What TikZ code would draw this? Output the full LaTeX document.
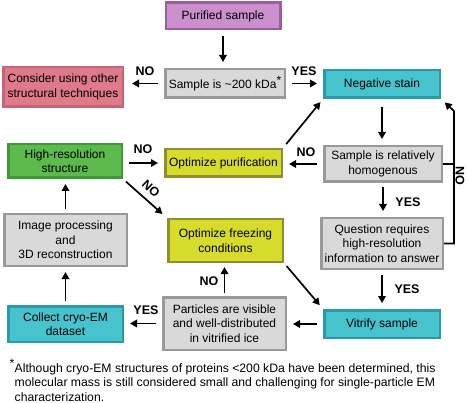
\documentclass[tikz,border=0pt]{standalone}
\usepackage{fontspec}
\setmainfont{Liberation Sans}
\usetikzlibrary{arrows.meta,calc}
\definecolor{purF}{HTML}{CB8FCB}\definecolor{purD}{HTML}{9A5EA0}
\definecolor{grF}{HTML}{D9D9D9}\definecolor{grD}{HTML}{999999}
\definecolor{pkF}{HTML}{DE7A8A}\definecolor{pkD}{HTML}{C46676}
\definecolor{teF}{HTML}{46C3CD}\definecolor{teD}{HTML}{2A9AA5}
\definecolor{gnF}{HTML}{5CBB4C}\definecolor{gnD}{HTML}{3D9A3A}
\definecolor{ylF}{HTML}{D6DB2C}\definecolor{ylD}{HTML}{8E9030}
\begin{document}
\begin{tikzpicture}[x=1pt,y=-1pt,
  box/.style={draw, line width=2.5pt, align=center, inner sep=0pt,
    font=\fontsize{12}{14.5}\selectfont},
  purbox/.style={box, fill=purF, draw=purD},
  grbox/.style={box, fill=grF, draw=grD},
  pkbox/.style={box, fill=pkF, draw=pkD},
  tebox/.style={box, fill=teF, draw=teD},
  gnbox/.style={box, fill=gnF, draw=gnD},
  ylbox/.style={box, fill=ylF, draw=ylD},
  arr/.style={-{Triangle[length=7pt,width=7.5pt]}, line width=1.7pt, shorten <=6pt, shorten >=6pt},
  plain/.style={line width=1.7pt},
  lbl/.style={font=\bfseries\fontsize{12.5}{14}\selectfont, inner sep=0pt},
  fn/.style={font=\fontsize{12.2}{14.5}\selectfont, inner sep=0pt}
]
\useasboundingbox (0,0) rectangle (468,403);

\node[purbox, minimum width=114.5pt, minimum height=26.5pt] (purified) at (223,16) {Purified sample};
\node[grbox, minimum width=119.5pt, minimum height=28.5pt] (s200) at (225,83.5) {Sample is \textasciitilde200 kDa\raisebox{0.35em}{*}};
\node[pkbox, minimum width=119.5pt, minimum height=39.5pt] (consider) at (63,87) {Consider using other\\structural techniques};
\node[tebox, minimum width=115.5pt, minimum height=27.5pt] (neg) at (382,84) {Negative stain};
\node[gnbox, minimum width=113.5pt, minimum height=33.5pt] (highres) at (65,161) {High-resolution\\structure};
\node[ylbox, minimum width=116.5pt, minimum height=27.5pt] (optpur) at (223.5,163) {Optimize purification};
\node[grbox, minimum width=117.5pt, minimum height=35.5pt] (homog) at (383,164) {Sample is relatively\\homogenous};
\node[ylbox, minimum width=114.5pt, minimum height=42.5pt] (optfreeze) at (225.5,240.5) {Optimize freezing\\conditions};
\node[grbox, minimum width=122.5pt, minimum height=51.5pt] (imgproc) at (65.5,240) {Image processing\\and\\3D reconstruction};
\node[grbox, minimum width=121.5pt, minimum height=50.5pt] (question) at (382,243.5) {Question requires\\high-resolution\\information to answer};
\node[tebox, minimum width=114.5pt, minimum height=35.5pt] (collect) at (65.5,324) {Collect cryo-EM\\dataset};
\node[grbox, minimum width=122.5pt, minimum height=52.5pt] (particles) at (224.5,323.5) {Particles are visible\\and well-distributed\\in vitrified ice};
\node[tebox, minimum width=115.5pt, minimum height=27.5pt] (vitrify) at (382,324) {Vitrify sample};

% arrows
\draw[arr] (purified.south) -- (purified.south |- s200.north);
\draw[arr, shorten >=8pt] (s200.west) -- (s200.west -| consider.east);
\draw[arr] (s200.east) -- (s200.east -| neg.west);
\draw[arr, shorten <=8pt] (neg.south) -- (neg.south |- homog.north);
\draw[arr] (homog.west) -- (homog.west -| optpur.east);
\draw[arr, shorten <=5pt, shorten >=4pt] (optpur.north east) -- (neg.south west);
\draw[arr] (optpur.west -| highres.east) -- (optpur.west);
\draw[arr, shorten <=4pt, shorten >=6pt] (highres.south east) -- (optfreeze.north west);
\draw[arr, shorten <=4pt, shorten >=6pt] (homog.south) -- (homog.south |- question.north);
\draw[arr, shorten <=5pt] (question.south) -- (question.south |- vitrify.north);
\draw[arr, shorten <=4pt, shorten >=5pt] (optfreeze.south east) -- (vitrify.north west);
\draw[arr] (vitrify.west) -- (vitrify.west -| particles.east);
\draw[arr, shorten <=3pt, shorten >=4pt] (particles.north) -- (particles.north |- optfreeze.south);
\draw[arr] (particles.west) -- (particles.west -| collect.east);
\draw[arr, shorten <=4pt, shorten >=5pt] (collect.north) -- (collect.north |- imgproc.south);
\draw[arr, shorten <=4pt, shorten >=5pt] (imgproc.north) -- (imgproc.north |- highres.south);

% right loop
\coordinate (loopx) at (454,245);
\coordinate (looptop) at (454,111);
\draw[arr, shorten <=0pt, shorten >=5pt] (question.east) -- (question.east -| loopx) -- (looptop) -- (neg.south east);
\draw[plain] (homog.east) -- (homog.east -| loopx);

% labels
\node[lbl] (lno1) at (145,71) {NO};
\node[lbl] (lyes1) at (304,71) {YES};
\node[lbl] (lno2) at (143,149) {NO};
\node[lbl] (lno3) at (306,152.5) {NO};
\node[lbl, rotate=-43] (lno4) at (151,188.5) {NO};
\node[lbl] (lyes2) at (408,202) {YES};
\node[lbl] (lyes3) at (407,289) {YES};
\node[lbl] (lno5) at (209,281) {NO};
\node[lbl] (lyes4) at (146,310) {YES};
\node[lbl, rotate=-90] (lno6) at (460,176) {NO};

% footnote
\node[fn, anchor=base east] (fstar) at (14.5,367) {*};
\node[fn, anchor=base west] (f1) at (14.5,372) {Although cryo-EM structures of proteins <200 kDa have been determined, this};
\node[fn, anchor=base west] (f2) at (14.5,386.5) {molecular mass is still considered small and challenging for single-particle EM};
\node[fn, anchor=base west] (f3) at (14.5,401) {characterization.};
\end{tikzpicture}
\end{document}
